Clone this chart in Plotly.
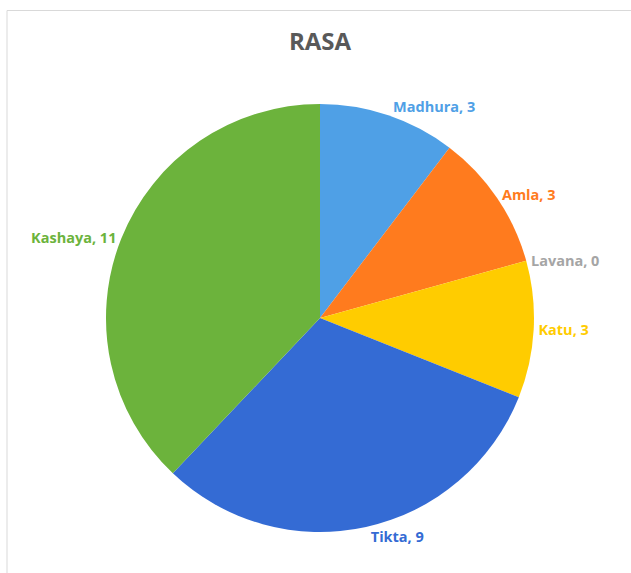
import plotly.graph_objects as go

categories = ["Madhura", "Amla", "Lavana", "Katu", "Tikta", "Kashaya"]
values = [3, 3, 0, 3, 9, 11]
colors = ["#4FA0E6", "#FF7B1E", "#A5A5A5", "#FFCC00", "#346BD4", "#6CB33C"]

W, H = 631, 573
cx, cy, r = 320, 318, 214

fig = go.Figure(go.Pie(
    labels=categories,
    values=values,
    sort=False,
    direction="clockwise",
    rotation=0,
    marker=dict(colors=colors, line=dict(width=0)),
    texttemplate="%{label}, %{value}",
    textposition="outside",
    textfont=dict(family="Open Sans", size=14.5, color=colors, weight="bold"),
    showlegend=False,
    hoverinfo="label+value",
    domain=dict(x=[(cx - r) / W, (cx + r) / W],
                y=[(H - cy - r) / H, (H - cy + r) / H]),
))

fig.update_layout(
    width=W, height=H,
    margin=dict(l=0, r=0, t=0, b=0),
    paper_bgcolor="white",
    title=dict(text="<b>RASA</b>", x=320 / W, xanchor="center",
               y=1 - 42 / H, yanchor="middle", yref="container",
               font=dict(family="Open Sans", size=24, color="#595959")),
    shapes=[
        dict(type="line", xref="paper", yref="paper", x0=7 / W, x1=1, y0=1 - 10.5 / H, y1=1 - 10.5 / H,
             line=dict(color="#D9D9D9", width=1)),
        dict(type="line", xref="paper", yref="paper", x0=7 / W, x1=7 / W, y0=0, y1=1 - 10.5 / H,
             line=dict(color="#D9D9D9", width=1)),
    ],
)

fig.write_html("out.html", config={"displayModeBar": False},
               post_script="document.body.style.margin='0';")
